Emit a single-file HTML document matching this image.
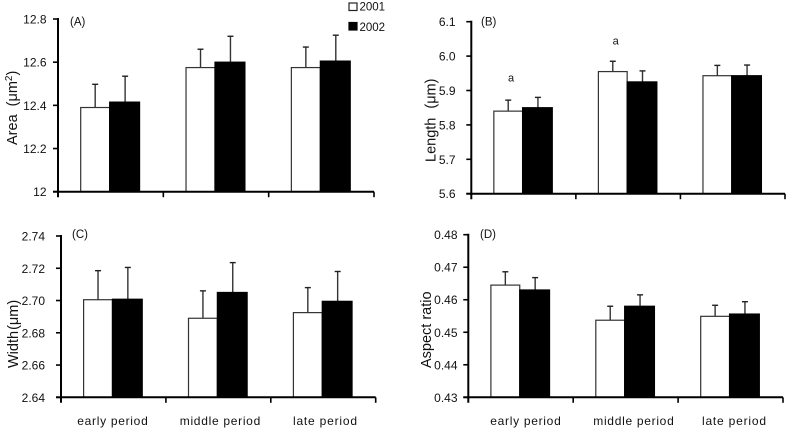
<!DOCTYPE html>
<html lang="en">
<head>
<meta charset="utf-8">
<title>Grain measurements by period</title>
<style>
html,body{margin:0;padding:0;background:#fff;width:787px;height:428px;overflow:hidden}
svg{display:block}
text{font-family:"Liberation Sans","Noto Sans CJK JP",sans-serif;fill:#111}
</style>
</head>
<body>
<svg id="chart" width="787" height="428" viewBox="0 0 787 428" xmlns="http://www.w3.org/2000/svg">
  <g>
    <rect x="349" y="3" width="8" height="7.5" fill="#fff" stroke="#222" stroke-width="1.2"/>
    <text x="359.5" y="10.5" font-size="11.5">2001</text>
    <rect x="349" y="22.5" width="8" height="7.5" fill="#000" stroke="#000" stroke-width="1.2"/>
    <text x="359.5" y="31" font-size="11.5">2002</text>
  </g>
</svg>
<script>
var categories = ["early period", "middle period", "late period"];

var areaTicks = ["12", "12.2", "12.4", "12.6", "12.8"];
var area2001 = [12.39, 12.575, 12.575];
var area2002 = [12.415, 12.6, 12.605];
var areaErr2001 = [0.1075, 0.085, 0.095];
var areaErr2002 = [0.12, 0.12, 0.12];

var lengthTicks = ["5.6", "5.7", "5.8", "5.9", "6.0", "6.1"];
var length2001 = [5.84, 5.955, 5.943];
var length2002 = [5.85, 5.925, 5.943];
var lengthErr2001 = [0.032, 0.03, 0.03];
var lengthErr2002 = [0.03, 0.032, 0.031];
var lengthMarks = ["a", "a", ""];

var widthTicks = ["2.64", "2.66", "2.68", "2.70", "2.72", "2.74"];
var width2001 = [2.7005, 2.689, 2.6925];
var width2002 = [2.7008, 2.705, 2.6995];
var widthErr2001 = [0.018, 0.017, 0.0155];
var widthErr2002 = [0.0197, 0.0185, 0.0185];

var aspectTicks = ["0.43", "0.44", "0.45", "0.46", "0.47", "0.48"];
var aspect2001 = [0.4645, 0.4537, 0.4549];
var aspect2002 = [0.463, 0.458, 0.4556];
var aspectErr2001 = [0.0041, 0.0043, 0.0034];
var aspectErr2002 = [0.0038, 0.0035, 0.0038];

var categoryWidths = {"early period": 70.5, "middle period": 80.5, "late period": 64};

var panels = [
  {id:"a", letter:"(A)", letterX:70, letterY:25.5, left:58, right:374, top:19, bottom:191.7,
   ticks:areaTicks, s1:area2001, s2:area2002, e1:areaErr2001, e2:areaErr2002, marks:null,
   titleMain:"Area", titleGap:8, titleUnit:"(μm", titleSup:"2", titleEnd:")", titleX:17, titleY:145, labelEnd:46.5, showCats:false},
  {id:"b", letter:"(B)", letterX:481, letterY:25.5, left:471.3, right:785, top:21.7, bottom:193.7,
   ticks:lengthTicks, s1:length2001, s2:length2002, e1:lengthErr2001, e2:lengthErr2002, marks:lengthMarks,
   titleMain:"Length", titleGap:9, titleUnit:"(μm", titleSup:"", titleEnd:")", titleX:435.5, titleY:162, labelEnd:455.5, showCats:false},
  {id:"c", letter:"(C)", letterX:72, letterY:238, left:61, right:375.7, top:236, bottom:397.3,
   ticks:widthTicks, s1:width2001, s2:width2002, e1:widthErr2001, e2:widthErr2002, marks:null,
   titleMain:"Width", titleGap:1, titleUnit:"(μm", titleSup:"", titleEnd:")", titleX:18, titleY:368, labelEnd:45, showCats:true, catCenters:[112.5, 220, 325]},
  {id:"d", letter:"(D)", letterX:480, letterY:238, left:468.3, right:783, top:234.7, bottom:397.3,
   ticks:aspectTicks, s1:aspect2001, s2:aspect2002, e1:aspectErr2001, e2:aspectErr2002, marks:null,
   titleMain:"Aspect ratio", titleGap:0, titleUnit:"", titleSup:"", titleEnd:"", titleX:431, titleY:368, labelEnd:457.5, showCats:true, catCenters:[525.5, 633.5, 734]}
];

var NS = "http://www.w3.org/2000/svg";
var svg = document.getElementById("chart");

function make(parent, tag, attrs, content) {
  var el = document.createElementNS(NS, tag);
  for (var k in attrs) { el.setAttribute(k, attrs[k]); }
  if (content !== undefined) { el.textContent = content; }
  parent.appendChild(el);
  return el;
}

function yScale(p) {
  var lo = parseFloat(p.ticks[0]);
  var hi = parseFloat(p.ticks[p.ticks.length - 1]);
  return function (v) { return p.bottom - (v - lo) / (hi - lo) * (p.bottom - p.top); };
}

function xScale(p) {
  var step = (p.right - p.left) / categories.length;
  return function (i) { return p.left + i * step; };
}

function drawBar(g, p, name, x0, w, value, err, fill, y) {
  var top = y(value);
  var errTop = y(value + err);
  var cx = x0 + w / 2 + (fill === "#000" ? 0.5 : 0);

  var stem = make(g, "line", {x1:cx, x2:cx, y1:top, y2:errTop, stroke:"#333", "stroke-width":1.4});
  
  

  var cap = make(g, "line", {x1:cx - 3, x2:cx + 3, y1:errTop, y2:errTop, stroke:"#222", "stroke-width":1.4});
  
  

  var bar = make(g, "rect", {x:x0, y:top, width:w, height:p.bottom - top, fill:fill, stroke:fill === "#000" ? "#000" : "#333", "stroke-width":1.2});
  
  
}

panels.forEach(function (p) {
  var y = yScale(p);
  var x = xScale(p);
  var step = (p.right - p.left) / categories.length;

  var g = make(svg, "g", {});
  
  

  categories.forEach(function (c, i) {
    var start = x(i) + step * 0.2155;
    var w1 = step * 0.275;
    var w2 = step * 0.284;
    var slug = c.split(" ")[0];
    drawBar(g, p, "bar-" + p.id + "-" + slug + "-2001", start, w1, p.s1[i], p.e1[i], "#fff", y);
    drawBar(g, p, "bar-" + p.id + "-" + slug + "-2002", start + w1, w2, p.s2[i], p.e2[i], "#000", y);

    if (p.marks && p.marks[i]) {
      var hi = Math.max(p.s1[i] + p.e1[i], p.s2[i] + p.e2[i]);
      var mark = make(g, "text", {x:start + w1 - 11.5, y:y(hi) - 16 - 1 * i, "font-size":11, "text-anchor":"middle"}, p.marks[i]);
      
      
    }

    if (p.showCats) {
      var cat = make(g, "text", {x:p.catCenters[i], y:425, "font-size":12, "text-anchor":"middle", textLength:categoryWidths[c], lengthAdjust:"spacing"}, c);
      
      
    }
  });

  var yAxis = make(g, "line", {x1:p.left, x2:p.left, y1:p.top - 1, y2:p.bottom + 5.5, stroke:"#000", "stroke-width":2});
  
  

  var xAxis = make(g, "line", {x1:p.left - 5, x2:p.right, y1:p.bottom, y2:p.bottom, stroke:"#000", "stroke-width":2});
  
  

  for (var i = 1; i <= categories.length; i++) {
    var tx = make(g, "line", {x1:x(i), x2:x(i), y1:p.bottom, y2:p.bottom + 5.5, stroke:"#000", "stroke-width":1.6});
    
    
  }

  p.ticks.forEach(function (t) {
    var v = parseFloat(t);
    var ty = y(v);
    var tick = make(g, "line", {x1:p.left - 5, x2:p.left, y1:ty, y2:ty, stroke:"#000", "stroke-width":1.6});
    
    

    var lab = make(g, "text", {x:p.labelEnd, y:ty + 4.5, "font-size":12, "text-anchor":"end"}, t);
    
    
  });

  var title = make(g, "text", {x:0, y:0, "font-size":14.5, transform:"translate(" + p.titleX + "," + p.titleY + ") rotate(-90)"});
  
  
  make(title, "tspan", {}, p.titleMain);
  if (p.titleUnit) {
    make(title, "tspan", {dx:p.titleGap}, p.titleUnit);
  }
  if (p.titleSup) {
    make(title, "tspan", {dy:-5, "font-size":10}, p.titleSup);
  }
  if (p.titleEnd) {
    make(title, "tspan", {dy:p.titleSup ? 5 : 0}, p.titleEnd);
  }

  var letter = make(g, "text", {x:p.letterX, y:p.letterY, "font-size":11.5}, p.letter);
  
  
});
</script>
</body>
</html>
